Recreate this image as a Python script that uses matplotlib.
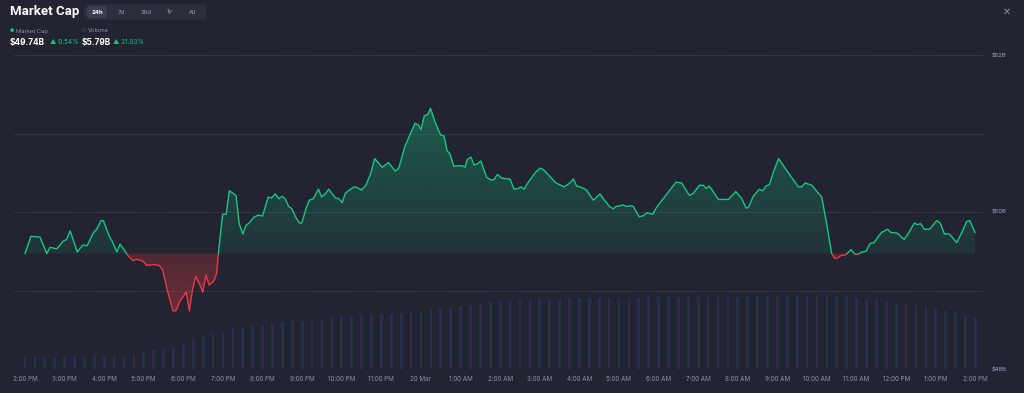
import numpy as np
import matplotlib
matplotlib.use("Agg")
import matplotlib.pyplot as plt
from matplotlib.patches import FancyBboxPatch, Rectangle
from matplotlib.path import Path
from matplotlib.colors import to_rgb

# ---------------- data ----------------
hours = [0.00, 0.15, 0.38, 0.55, 0.63, 0.80, 0.97, 1.05, 1.14, 1.22, 1.32, 1.46, 1.57, 1.72, 1.81,
         1.92, 1.98, 2.13, 2.21, 2.32, 2.40, 2.50, 2.59, 2.73, 2.82, 2.99, 3.07, 3.24, 3.39, 3.48,
         3.58, 3.66, 3.74, 3.81, 3.91, 4.07, 4.15, 4.23, 4.31, 4.40, 4.49, 4.57, 4.65, 4.77, 4.84,
         4.88, 4.99, 5.08, 5.16, 5.33, 5.41, 5.50, 5.58, 5.66, 5.77, 5.89, 6.00, 6.14, 6.23, 6.32,
         6.41, 6.49, 6.57, 6.66, 6.74, 6.84, 6.93, 6.99, 7.10, 7.18, 7.28, 7.41, 7.49, 7.58, 7.67,
         7.84, 7.92, 8.01, 8.09, 8.19, 8.31, 8.39, 8.50, 8.61, 8.73, 8.83, 9.02, 9.18, 9.35, 9.44,
         9.59, 9.70, 9.85, 9.93, 10.00, 10.08, 10.18, 10.24, 10.34, 10.44, 10.50, 10.58, 10.66, 10.73, 10.83,
         10.94, 11.04, 11.11, 11.17, 11.26, 11.34, 11.42, 11.51, 11.66, 11.76, 11.84, 11.93, 12.04, 12.25, 12.35,
         12.46, 12.53, 12.60, 12.75, 12.90, 13.01, 13.09, 13.26, 13.41, 13.53, 13.61, 13.76, 13.85, 13.93, 14.02,
         14.18, 14.35, 14.52, 14.60, 14.76, 14.86, 14.92, 15.04, 15.11, 15.19, 15.30, 15.36, 15.51, 15.60, 15.71,
         15.78, 15.85, 15.95, 16.12, 16.24, 16.44, 16.58, 16.78, 16.88, 17.03, 17.13, 17.20, 17.28, 17.38, 17.51,
         17.76, 17.95, 18.10, 18.21, 18.27, 18.39, 18.54, 18.63, 18.71, 18.80, 18.90, 19.03, 19.22, 19.39, 19.53,
         19.61, 19.70, 19.87, 20.00, 20.12, 20.24, 20.37, 20.45, 20.54, 20.62, 20.71, 20.86, 20.96, 21.04, 21.13,
         21.24, 21.34, 21.44, 21.63, 21.78, 21.86, 22.03, 22.20, 22.31, 22.46, 22.53, 22.62, 22.71, 22.85, 23.02,
         23.11, 23.22, 23.34, 23.53, 23.65, 23.78, 23.86, 23.99]

market_cap = [49.47, 49.69, 49.68, 49.47, 49.55, 49.53, 49.63, 49.65, 49.76, 49.64, 49.49, 49.58, 49.57, 49.73, 49.78,
              49.89, 49.89, 49.69, 49.62, 49.49, 49.59, 49.52, 49.45, 49.38, 49.40, 49.37, 49.32, 49.33, 49.32, 49.26,
              49.03, 48.88, 48.74, 48.74, 48.86, 48.98, 48.74, 49.01, 49.18, 49.09, 48.98, 49.20, 49.07, 49.12, 49.22,
              49.45, 49.97, 49.97, 50.27, 50.21, 49.85, 49.72, 49.83, 49.86, 49.93, 49.96, 49.95, 50.19, 50.18, 50.23,
              50.17, 50.20, 50.17, 50.07, 50.04, 49.93, 49.86, 49.86, 50.05, 50.15, 50.17, 50.29, 50.19, 50.23, 50.29,
              50.18, 50.17, 50.12, 50.24, 50.28, 50.32, 50.31, 50.28, 50.34, 50.49, 50.68, 50.57, 50.63, 50.52, 50.56,
              50.83, 50.96, 51.13, 51.11, 51.05, 51.22, 51.25, 51.32, 51.17, 51.04, 50.98, 50.97, 50.78, 50.74, 50.58,
              50.59, 50.59, 50.57, 50.67, 50.70, 50.60, 50.61, 50.65, 50.44, 50.41, 50.41, 50.48, 50.43, 50.42, 50.29,
              50.30, 50.32, 50.29, 50.41, 50.51, 50.56, 50.54, 50.45, 50.37, 50.34, 50.32, 50.37, 50.42, 50.33, 50.32,
              50.28, 50.15, 50.23, 50.17, 50.07, 50.04, 50.07, 50.08, 50.09, 50.07, 50.08, 50.07, 49.94, 49.95, 49.99,
              49.98, 49.97, 50.06, 50.17, 50.25, 50.38, 50.37, 50.21, 50.24, 50.34, 50.34, 50.30, 50.33, 50.26, 50.16,
              50.16, 50.26, 50.17, 50.05, 50.06, 50.20, 50.29, 50.27, 50.33, 50.35, 50.51, 50.68, 50.54, 50.42, 50.32,
              50.32, 50.37, 50.34, 50.26, 50.19, 49.86, 49.47, 49.41, 49.42, 49.45, 49.45, 49.52, 49.46, 49.46, 49.49,
              49.50, 49.60, 49.61, 49.74, 49.78, 49.74, 49.73, 49.65, 49.73, 49.86, 49.84, 49.85, 49.78, 49.78, 49.89,
              49.86, 49.72, 49.72, 49.61, 49.73, 49.88, 49.89, 49.74]

baseline = 49.47

vol_hours = [i * 0.25 for i in range(97)]
volume = [1.36, 1.38, 1.40, 1.38, 1.40, 1.42, 1.40, 1.44, 1.45, 1.46, 1.48,
          1.70, 1.95, 2.16, 2.30, 2.50, 2.75, 3.30, 3.60, 3.95, 4.30, 4.66,
          4.80, 4.95, 5.05, 5.20, 5.34, 5.42, 5.50, 5.60, 5.70, 5.80,
          5.88, 5.95, 6.08, 6.16, 6.22, 6.30, 6.36, 6.50, 6.65, 6.80, 6.92, 7.05,
          7.20, 7.33, 7.45, 7.60, 7.73, 7.78, 7.84, 7.88, 7.92, 7.95, 7.98, 8.00, 8.03, 8.05, 8.07,
          8.08, 8.10, 8.10, 8.12, 8.13, 8.14, 8.15, 8.16, 8.17, 8.18,
          8.20, 8.21, 8.22, 8.24, 8.25, 8.27, 8.28, 8.29, 8.30, 8.30, 8.34, 8.38, 8.41,
          8.35, 8.25, 8.10, 7.98, 7.85, 7.70, 7.55, 7.40, 7.22, 7.02, 6.80, 6.58, 6.35, 6.10, 5.80]

x_tick_pos = list(range(25))
x_tick_labels = ["2:00 PM", "3:00 PM", "4:00 PM", "5:00 PM", "6:00 PM", "7:00 PM", "8:00 PM",
                 "9:00 PM", "10:00 PM", "11:00 PM", "20 Mar", "1:00 AM", "2:00 AM", "3:00 AM",
                 "4:00 AM", "5:00 AM", "6:00 AM", "7:00 AM", "8:00 AM", "9:00 AM", "10:00 AM",
                 "11:00 AM", "12:00 PM", "1:00 PM", "2:00 PM"]
y_ticks = [48, 49, 50, 51, 52]
y_tick_labels = ["$48B", "", "$50B", "", "$52B"]

tabs = ["24h", "7d", "30d", "1y", "All"]
mc_value, mc_change = "$49.74B", "\u25b2 0.54%"
vol_value, vol_change = "$5.79B", "\u25b2 21.03%"

# ---------------- style ----------------
BG = "#222531"
GREEN = "#16c784"
RED = "#ea3943"
GRID = "#454857"
TXT = "#8c91a3"

plt.rcParams['font.family'] = ['Inter', 'DejaVu Sans']

W, H = 1024, 393
fig = plt.figure(figsize=(W / 100, H / 100), dpi=100, facecolor=BG)

ax = fig.add_axes([14 / W, 24 / H, 971 / W, 314 / H])
axv = ax.twinx()
ax.set_zorder(axv.get_zorder() + 1)
ax.patch.set_visible(False)
axv.set_facecolor(BG)

# volume bars
axv.bar(vol_hours, volume, width=0.07, color="#2a3150", alpha=0.85, linewidth=0)
axv.set_ylim(0, 35.7)
axv.set_yticks([])
for s in axv.spines.values():
    s.set_visible(False)

t = np.array(hours)
v = np.array(market_cap)
XL = (-11 / 39.6, 960 / 39.6)
ax.set_xlim(*XL)
ax.set_ylim(48, 52)


def gradient_fill(where, color, a_far, a_near, y_far):
    poly = ax.fill_between(t, v, baseline, where=where, interpolate=True,
                           color='none', linewidth=0)
    paths = poly.get_paths()
    if not paths:
        return
    comp = Path.make_compound_path(*paths)
    rgb = to_rgb(color)
    n = 256
    img = np.zeros((n, 2, 4))
    img[..., :3] = rgb
    alphas = np.linspace(a_far, a_near, n)[:, None]
    img[..., 3] = alphas
    lo, hi = (baseline, y_far) if y_far > baseline else (y_far, baseline)
    if y_far > baseline:
        img = img  # top row (origin upper) = far
    else:
        img = img[::-1]
    im = ax.imshow(img, extent=[XL[0], XL[1], lo, hi], origin='upper', aspect='auto',
                   interpolation='bilinear', zorder=1)
    im.set_clip_path(comp, transform=ax.transData)


gradient_fill(v >= baseline, GREEN, 0.34, 0.09, 51.35)
gradient_fill(v <= baseline, RED, 0.38, 0.22, 48.7)
ax.set_xlim(*XL)
ax.set_ylim(48, 52)

lg, = ax.plot(t, v, color=GREEN, lw=1.0, solid_joinstyle='round', zorder=3)
lr, = ax.plot(t, v, color=RED, lw=1.0, solid_joinstyle='round', zorder=3)
rg = Rectangle((-5, baseline), 40, 10, transform=ax.transData)
rr = Rectangle((-5, 40), 40, baseline - 40, transform=ax.transData)
lg.set_clip_path(rg)
lr.set_clip_path(rr)

ax.set_yticks(y_ticks)
ax.set_yticklabels(y_tick_labels)
ax.yaxis.tick_right()
ax.tick_params(axis='y', length=0, pad=5, labelsize=4.2, labelcolor="#a3a8c4")
ax.set_xticks(x_tick_pos)
ax.set_xticklabels(x_tick_labels)
ax.tick_params(axis='x', length=0, pad=5, labelsize=4.5, labelcolor=TXT)
ax.grid(axis='y', color=GRID, linestyle=(0, (1, 1)), linewidth=0.7, zorder=0)
ax.grid(axis='x', visible=False)
ax.set_axisbelow(True)
for s in ax.spines.values():
    s.set_visible(False)

# ---------------- header ----------------
def P(x, y):
    return (x / W, 1 - y / H)

fig.text(*P(10, 12), "Market Cap", fontsize=9.5, fontweight='bold', color="white",
         va='center', ha='left', family=['Roboto', 'DejaVu Sans'])

tr = fig.dpi_scale_trans
def box(x0, y0, x1, y1, fc, r=0.03):
    fig.patches.append(FancyBboxPatch((x0 / 100, (H - y1) / 100), (x1 - x0) / 100, (y1 - y0) / 100,
                                      boxstyle=f"round,pad=0,rounding_size={r}", transform=tr,
                                      facecolor=fc, edgecolor='none', zorder=0))

box(84, 4, 206, 20, "#2b2e3b", 0.04)
box(87, 6, 107, 18, "#3a3e4e", 0.03)
tab_x = [97, 121, 146, 170, 192]
for lbl, xx in zip(tabs, tab_x):
    fig.text(*P(xx, 12), lbl, fontsize=4.3, color="white" if lbl == "24h" else "#a0a5b8",
             fontweight='bold' if lbl == "24h" else 'normal', ha='center', va='center')

fig.text(*P(10, 31), "\u25cf", fontsize=3.5, color=GREEN, ha='left', va='center')
fig.text(*P(16, 31), "Market Cap", fontsize=4.2, color=TXT, ha='left', va='center')
fig.text(*P(82, 31), "\u25cf", fontsize=3.5, color="#2b3558", ha='left', va='center')
fig.text(*P(88, 31), "Volume", fontsize=4.2, color=TXT, ha='left', va='center')

fig.text(*P(10, 42), mc_value, fontsize=6, fontweight='bold', color="white", ha='left', va='center')
fig.text(*P(50, 42), mc_change, fontsize=4.6, color=GREEN, ha='left', va='center')
fig.text(*P(82, 42), vol_value, fontsize=6, fontweight='bold', color="white", ha='left', va='center')
fig.text(*P(113, 42), vol_change, fontsize=4.6, color=GREEN, ha='left', va='center')

fig.text(*P(1007, 12), "\u2715", fontsize=7, color="#8c91a3", ha='center', va='center',
         family=['DejaVu Sans'])

fig.savefig("out.png", dpi=100, facecolor=BG)
